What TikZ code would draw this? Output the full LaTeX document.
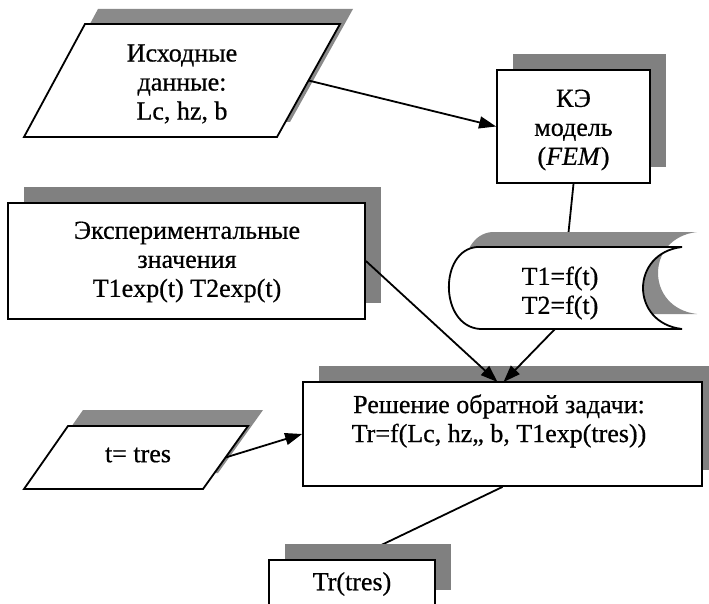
\documentclass[tikz,border=0pt]{standalone}
\usepackage{fontspec}
\setmainfont[FakeBold=0.6]{Liberation Serif}
\usetikzlibrary{arrows.meta,calc,shadows}
\definecolor{shadowgray}{HTML}{808080}
\definecolor{dotgray}{HTML}{8A8A8A}
\pgfdeclarelayer{bg}
\pgfsetlayers{bg,main}
\begin{document}
\begin{tikzpicture}[x=1pt,y=-1pt,
  outline/.style={draw=black,line width=1.8pt,fill=white,line join=miter},
  boxnode/.style={outline,rectangle,inner sep=0pt,
    general shadow={fill=shadowgray,draw=none,shadow xshift=16pt,shadow yshift=16pt}},
  dotshadow/.style={fill=dotgray,draw=none},
  txt/.style={font=\fontsize{26}{29}\selectfont,align=center,inner sep=0pt},
  conn/.style={line width=1.8pt},
  arr/.style={conn,-{Triangle[length=17pt,width=12pt]}},
]
\useasboundingbox (0,0) rectangle (709,604);
\clip (0,0) rectangle (709,604);

% ---- Input parallelogram 1
\path[dotshadow] (98,9) -- (353,9) -- (290,122) -- (37,122) -- cycle;
\path[outline] (85,24) -- (340,24) -- (277,137) -- (24,137) -- cycle;
\coordinate (p1e) at (308.5,80.5);
\node[txt] (p1t) at (182,84) {Исходные\\данные:\\Lc, hz, b};

% ---- FEM box
\node[boxnode,minimum width=153pt,minimum height=113pt] (ke) at (573.5,126.5) {};
\node[txt] (ket) at (573.5,130) {КЭ\\модель\\(\textit{FEM})};

% ---- Experimental values box
\node[boxnode,minimum width=357pt,minimum height=116pt] (exp) at (186.5,261) {};
\node[txt] (expt) at (187,262) {Экспериментальные\\значения\\T1exp(t) T2exp(t)};

% ---- Stored data shape
\begin{scope}[shift={(15,-15)}]
\path[dotshadow] (477,247) -- (682,247) .. controls (630,253) and (630,323) .. (682,329)
   -- (480,329) .. controls (439,326) and (439,250) .. cycle;
\end{scope}
\path[outline] (477,247) -- (682,247) .. controls (630,253) and (630,323) .. (682,329)
   -- (480,329) .. controls (439,326) and (439,250) .. cycle;
\node[txt] (doct) at (560,293) {T1=f(t)\\T2=f(t)};
\coordinate (doctop) at (567,247);
\coordinate (docbot) at (555,329);

% ---- Solution box
\node[boxnode,minimum width=399pt,minimum height=104pt] (sol) at (502.5,434) {};
\node[txt] (solt) at (499,421) {Решение обратной задачи:\\Tr=f(Lc, hz,, b, T1exp(tres))};
\coordinate (solin1) at (497.5,382);
\coordinate (solin2) at (503.5,382);

% ---- t = tres parallelogram
\path[dotshadow] (83,410) -- (263,410) -- (218,473) -- (39,473) -- cycle;
\path[outline] (68,426) -- (248,426) -- (203,489) -- (24,489) -- cycle;
\coordinate (tte) at (225.5,457.5);
\node[txt] (ttt) at (138,455) {t= tres};

% ---- Result box
\node[boxnode,minimum width=166pt,minimum height=46pt] (tr) at (352,583) {};
\node[txt] (trt) at (352,584) {Tr(tres)};

% ---- connectors under shapes
\begin{pgfonlayer}{bg}
\draw[conn] (ke.south) -- (doctop);
\draw[conn] (sol.south) -- (tr.north);
\end{pgfonlayer}

% ---- arrows
\draw[arr] (p1e) -- (ke.west);
\draw[arr] (exp.east) -- (solin1);
\draw[arr] (docbot) -- (solin2);
\draw[arr] (tte) -- (sol.west);
\end{tikzpicture}
\end{document}
